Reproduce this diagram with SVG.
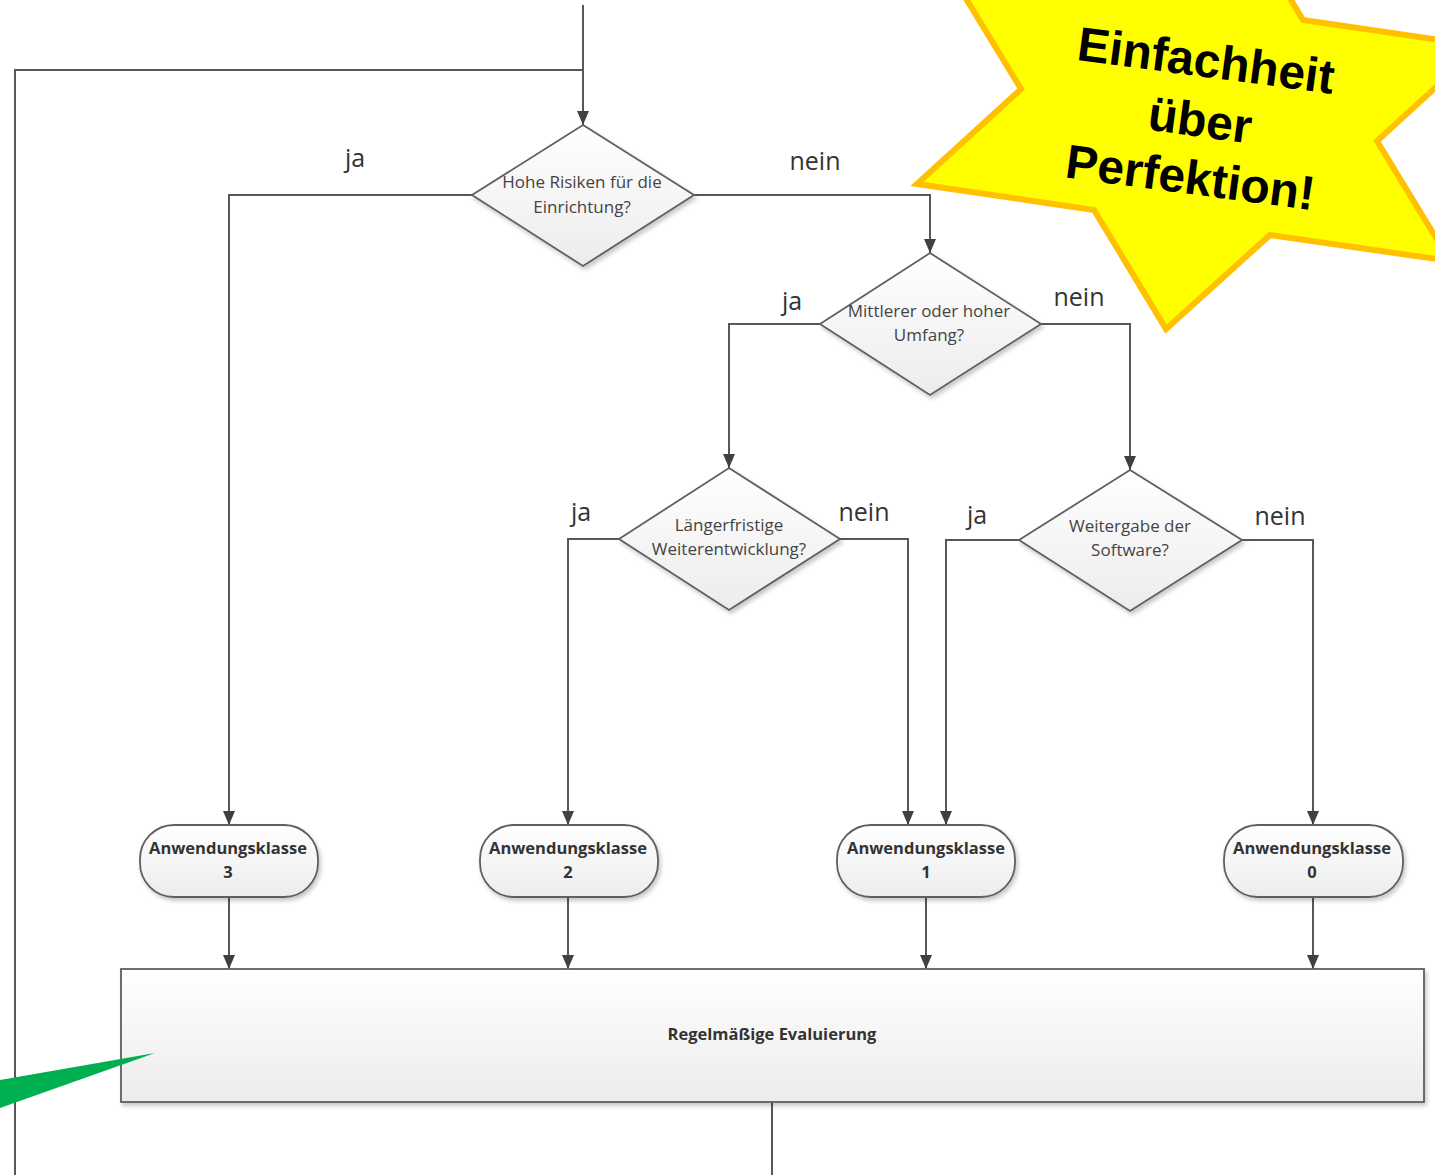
<svg xmlns="http://www.w3.org/2000/svg" width="1435" height="1175" viewBox="0 0 1435 1175">
<defs>
<linearGradient id="gfill" x1="0" y1="0" x2="0" y2="1">
<stop offset="0" stop-color="#ffffff"/>
<stop offset="1" stop-color="#ececec"/>
</linearGradient>
<filter id="sh" x="-10%" y="-10%" width="130%" height="130%">
<feDropShadow dx="2" dy="3" stdDeviation="2" flood-color="#000" flood-opacity="0.22"/>
</filter>
<marker id="ah" viewBox="0 0 14 12" refX="14" refY="6" markerWidth="14" markerHeight="12" markerUnits="userSpaceOnUse" orient="auto">
<path d="M0,0 L14,6 L0,12 z" fill="#404040"/>
</marker>
<style>
.shape{fill:url(#gfill);stroke:#5f5f5f;stroke-width:1.8;filter:url(#sh)}
.con{fill:none;stroke:#575757;stroke-width:2}
.arr{marker-end:url(#ah)}
.dt{font-family:"Open Sans","Liberation Sans",sans-serif;font-size:17px;fill:#444;text-anchor:middle}
.tt{font-family:"Open Sans","Liberation Sans",sans-serif;font-size:16.5px;font-weight:bold;fill:#333;text-anchor:middle}
.lbl{font-family:"Open Sans","Liberation Sans",sans-serif;font-size:25px;fill:#333;text-anchor:middle}
.st{font-family:"Liberation Sans",Arial,sans-serif;font-size:48px;font-weight:bold;fill:#000;text-anchor:middle}
</style>
</defs>
<rect width="1435" height="1175" fill="#fff"/>

<g id="connectors">
<path class="con arr" d="M583,5 L583,125"/>
<path class="con" d="M15,1175 L15,70 L583,70"/>
<path class="con arr" d="M472,195 L229,195 L229,825"/>
<path class="con arr" d="M694,195 L930,195 L930,253"/>
<path class="con arr" d="M820,324 L729,324 L729,468"/>
<path class="con arr" d="M1041,324 L1130,324 L1130,470"/>
<path class="con arr" d="M619,539 L568,539 L568,825"/>
<path class="con arr" d="M840,539 L908,539 L908,825"/>
<path class="con arr" d="M1019,540 L946,540 L946,825"/>
<path class="con arr" d="M1242,540 L1313,540 L1313,825"/>
<path class="con arr" d="M229,897 L229,969"/>
<path class="con arr" d="M568,897 L568,969"/>
<path class="con arr" d="M926,897 L926,969"/>
<path class="con arr" d="M1313,897 L1313,969"/>
<path class="con" d="M772,1102 L772,1175"/>
<text class="lbl" x="355" y="167">ja</text>
<text class="lbl" x="815" y="170">nein</text>
<text class="lbl" x="792" y="310">ja</text>
<text class="lbl" x="1079" y="306">nein</text>
<text class="lbl" x="581" y="521">ja</text>
<text class="lbl" x="864" y="521">nein</text>
<text class="lbl" x="977" y="524">ja</text>
<text class="lbl" x="1280" y="525">nein</text>
</g>

<g id="d1">
<polygon class="shape" points="583,125 694,195 583,266 472,195"/>
<text class="dt" x="582" y="188">Hohe Risiken für die</text>
<text class="dt" x="582" y="213">Einrichtung?</text>
</g>
<g id="d2">
<polygon class="shape" points="930,253 1041,324 930,395 820,324"/>
<text class="dt" x="929" y="317">Mittlerer oder hoher</text>
<text class="dt" x="929" y="341">Umfang?</text>
</g>
<g id="d3">
<polygon class="shape" points="729,468 840,539 729,610 619,539"/>
<text class="dt" x="729" y="531">Längerfristige</text>
<text class="dt" x="729" y="555">Weiterentwicklung?</text>
</g>
<g id="d4">
<polygon class="shape" points="1130,470 1242,540 1130,611 1019,540"/>
<text class="dt" x="1130" y="532">Weitergabe der</text>
<text class="dt" x="1130" y="556">Software?</text>
</g>

<g id="ak3">
<rect class="shape" x="140" y="825" width="178" height="72" rx="34" ry="34"/>
<text class="tt" x="228" y="854">Anwendungsklasse</text>
<text class="tt" x="228" y="878">3</text>
</g>
<g id="ak2">
<rect class="shape" x="480" y="825" width="178" height="72" rx="34" ry="34"/>
<text class="tt" x="568" y="854">Anwendungsklasse</text>
<text class="tt" x="568" y="878">2</text>
</g>
<g id="ak1">
<rect class="shape" x="837" y="825" width="178" height="72" rx="34" ry="34"/>
<text class="tt" x="926" y="854">Anwendungsklasse</text>
<text class="tt" x="926" y="878">1</text>
</g>
<g id="ak0">
<rect class="shape" x="1224" y="825" width="179" height="72" rx="34" ry="34"/>
<text class="tt" x="1312" y="854">Anwendungsklasse</text>
<text class="tt" x="1312" y="878">0</text>
</g>

<g id="eval">
<rect class="shape" x="121" y="969" width="1303" height="133"/>
<text class="tt" x="772" y="1040">Regelmäßige Evaluierung</text>
</g>

<g id="pointer">
<polygon points="155,1053 0,1080 0,1108" fill="#00b050"/>
</g>

<g id="star">
<polygon points="917,184 1094,210 1166,329 1270,235 1450,261 1377,141 1481,46 1303,20 1230,-101 1126,-5 948,-31 1021,89" fill="#ffff00" stroke="#ffc000" stroke-width="6" stroke-linejoin="miter"/>
<g transform="translate(1198,136.5) rotate(7.6)">
<text class="st" x="-2" y="-60">Einfachheit</text>
<text class="st" x="0" y="0">über</text>
<text class="st" x="-2" y="58">Perfektion!</text>
</g>
</g>
</svg>
